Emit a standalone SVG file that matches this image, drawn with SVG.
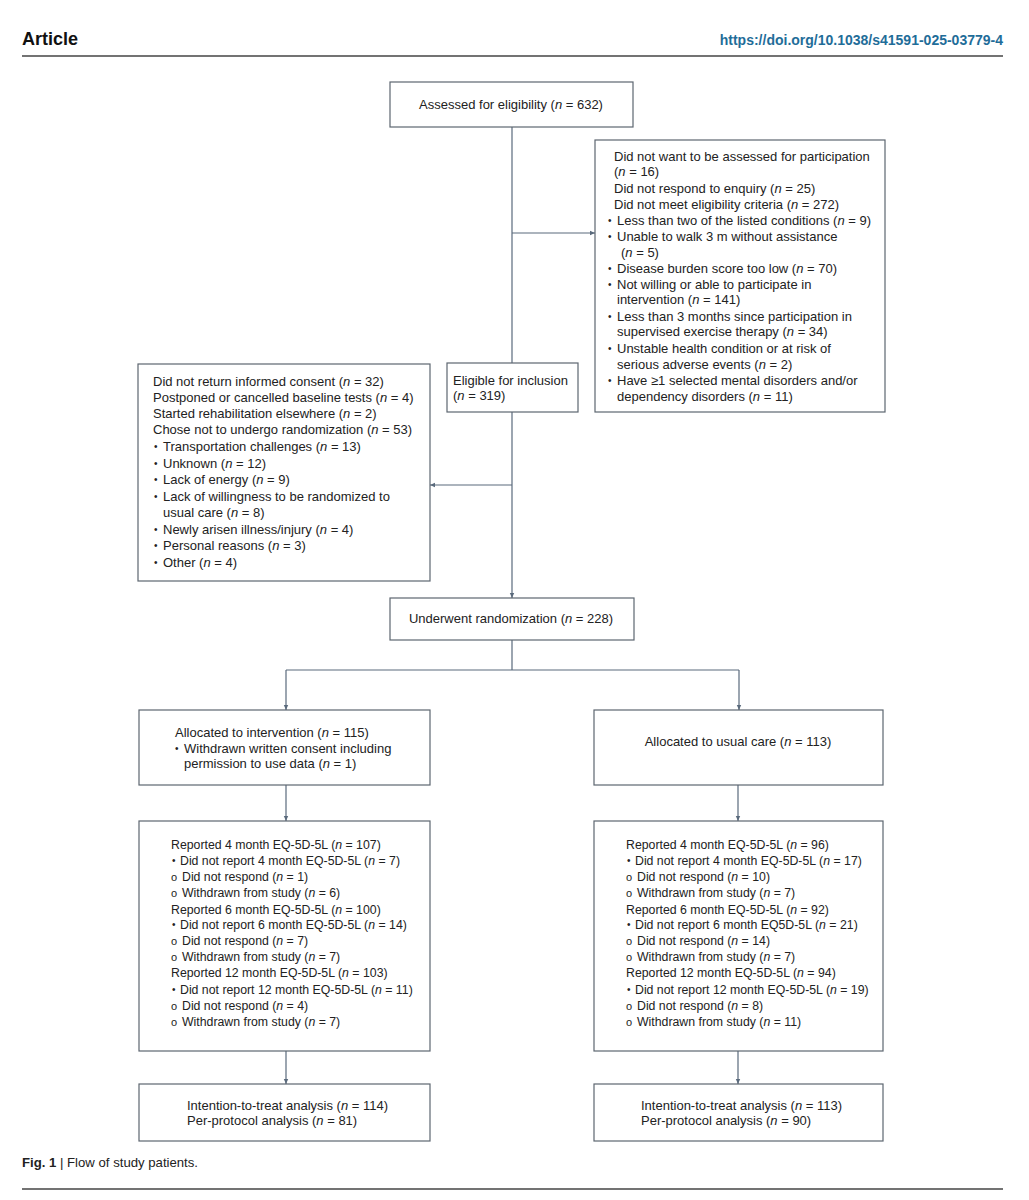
<svg xmlns="http://www.w3.org/2000/svg" width="1029" height="1200" viewBox="0 0 1029 1200">
<style>
text{font-family:"Liberation Sans",Arial,sans-serif;font-size:13px;fill:#222}
.box{fill:#fff;stroke:#5d6670;stroke-width:1.2}
.con{fill:none;stroke:#5a6a7c;stroke-width:1.2}
.b{font-size:10px}
.o{font-size:11px}
.c{text-anchor:middle}
.fu text{font-size:12.3px}
.fu text.b{font-size:10px}
.fu text.o{font-size:11px}
</style>
<defs>
<marker id="ah" markerWidth="6" markerHeight="6" refX="5" refY="3" orient="auto" markerUnits="userSpaceOnUse">
<path d="M0,0.8 L5,3 L0,5.2 Z" fill="#5a6a7c"/>
</marker>
</defs>
<rect width="1029" height="1200" fill="#fff"/>
<g id="header">
<text x="22" y="45" style="font-size:18px;font-weight:bold;fill:#111">Article</text>
<text x="1003" y="45" style="font-size:14px;font-weight:bold;fill:#1f6d99;text-anchor:end">https://doi.org/10.1038/s41591-025-03779-4</text>
<line x1="22" y1="56" x2="1003" y2="56" stroke="#444" stroke-width="1.5"/>
</g>
<g id="connectors">
<path class="con" d="M512,127 V363"/>
<path class="con" d="M512,233 H595" marker-end="url(#ah)"/>
<path class="con" d="M512,412 V598" marker-end="url(#ah)"/>
<path class="con" d="M512,485 H430" marker-end="url(#ah)"/>
<path class="con" d="M512,640 V670 M286,670 H739"/>
<path class="con" d="M286,670 V710" marker-end="url(#ah)"/>
<path class="con" d="M739,670 V710" marker-end="url(#ah)"/>
<path class="con" d="M286,785 V821" marker-end="url(#ah)"/>
<path class="con" d="M738,785 V821" marker-end="url(#ah)"/>
<path class="con" d="M286,1051 V1084" marker-end="url(#ah)"/>
<path class="con" d="M738,1051 V1084" marker-end="url(#ah)"/>
</g>
<g id="assessed">
<rect class="box" x="390" y="82" width="243" height="45"/>
<text class="c" x="511" y="109">Assessed for eligibility (<tspan font-style="italic">n</tspan> = 632)</text>
</g>
<g id="excluded1">
<rect class="box" x="595" y="140" width="290" height="272"/>
<text x="614" y="161">Did not want to be assessed for participation</text>
<text x="614" y="176">(<tspan font-style="italic">n</tspan> = 16)</text>
<text x="614" y="193">Did not respond to enquiry (<tspan font-style="italic">n</tspan> = 25)</text>
<text x="614" y="209">Did not meet eligibility criteria (<tspan font-style="italic">n</tspan> = 272)</text>
<text class="b" x="608" y="224">•</text><text x="617" y="225">Less than two of the listed conditions (<tspan font-style="italic">n</tspan> = 9)</text>
<text class="b" x="608" y="240">•</text><text x="617" y="241">Unable to walk 3 m without assistance</text>
<text x="621" y="257">(<tspan font-style="italic">n</tspan> = 5)</text>
<text class="b" x="608" y="272">•</text><text x="617" y="273">Disease burden score too low (<tspan font-style="italic">n</tspan> = 70)</text>
<text class="b" x="608" y="288">•</text><text x="617" y="289">Not willing or able to participate in</text>
<text x="617" y="304">intervention (<tspan font-style="italic">n</tspan> = 141)</text>
<text class="b" x="608" y="320">•</text><text x="617" y="321">Less than 3 months since participation in</text>
<text x="617" y="336">supervised exercise therapy (<tspan font-style="italic">n</tspan> = 34)</text>
<text class="b" x="608" y="352">•</text><text x="617" y="353">Unstable health condition or at risk of</text>
<text x="617" y="369">serious adverse events (<tspan font-style="italic">n</tspan> = 2)</text>
<text class="b" x="608" y="384">•</text><text x="617" y="385">Have ≥1 selected mental disorders and/or</text>
<text x="617" y="401">dependency disorders (<tspan font-style="italic">n</tspan> = 11)</text>
</g>
<g id="eligible">
<rect class="box" x="447" y="363" width="131" height="49"/>
<text x="453" y="385">Eligible for inclusion</text>
<text x="453" y="400">(<tspan font-style="italic">n</tspan> = 319)</text>
</g>
<g id="excluded2">
<rect class="box" x="138" y="364" width="292" height="217"/>
<text x="153" y="386">Did not return informed consent (<tspan font-style="italic">n</tspan> = 32)</text>
<text x="153" y="402">Postponed or cancelled baseline tests (<tspan font-style="italic">n</tspan> = 4)</text>
<text x="153" y="418">Started rehabilitation elsewhere (<tspan font-style="italic">n</tspan> = 2)</text>
<text x="153" y="434">Chose not to undergo randomization (<tspan font-style="italic">n</tspan> = 53)</text>
<text class="b" x="154" y="450">•</text><text x="163" y="451">Transportation challenges (<tspan font-style="italic">n</tspan> = 13)</text>
<text class="b" x="154" y="467">•</text><text x="163" y="468">Unknown (<tspan font-style="italic">n</tspan> = 12)</text>
<text class="b" x="154" y="483">•</text><text x="163" y="484">Lack of energy (<tspan font-style="italic">n</tspan> = 9)</text>
<text class="b" x="154" y="500">•</text><text x="163" y="501">Lack of willingness to be randomized to</text>
<text x="163" y="517">usual care (<tspan font-style="italic">n</tspan> = 8)</text>
<text class="b" x="154" y="533">•</text><text x="163" y="534">Newly arisen illness/injury (<tspan font-style="italic">n</tspan> = 4)</text>
<text class="b" x="154" y="549">•</text><text x="163" y="550">Personal reasons (<tspan font-style="italic">n</tspan> = 3)</text>
<text class="b" x="154" y="566">•</text><text x="163" y="567">Other (<tspan font-style="italic">n</tspan> = 4)</text>
</g>
<g id="randomized">
<rect class="box" x="390" y="598" width="244" height="42"/>
<text class="c" x="511" y="623">Underwent randomization (<tspan font-style="italic">n</tspan> = 228)</text>
</g>
<g id="alloc-intervention">
<rect class="box" x="139" y="710" width="291" height="75"/>
<text x="175" y="737">Allocated to intervention (<tspan font-style="italic">n</tspan> = 115)</text>
<text class="b" x="175" y="752">•</text><text x="184" y="753">Withdrawn written consent including</text>
<text x="184" y="768">permission to use data (<tspan font-style="italic">n</tspan> = 1)</text>
</g>
<g id="alloc-usual">
<rect class="box" x="594" y="710" width="289" height="75"/>
<text class="c" x="738" y="746">Allocated to usual care (<tspan font-style="italic">n</tspan> = 113)</text>
</g>
<g id="followup-intervention" class="fu">
<rect class="box" x="139" y="821" width="291" height="230"/>
<text x="171" y="849">Reported 4 month EQ-5D-5L (<tspan font-style="italic">n</tspan> = 107)</text>
<text class="b" x="172" y="864">•</text><text x="180" y="865">Did not report 4 month EQ-5D-5L (<tspan font-style="italic">n</tspan> = 7)</text>
<text class="o" x="171" y="881">o</text><text x="182" y="881">Did not respond (<tspan font-style="italic">n</tspan> = 1)</text>
<text class="o" x="171" y="897">o</text><text x="182" y="897">Withdrawn from study (<tspan font-style="italic">n</tspan> = 6)</text>
<text x="171" y="914">Reported 6 month EQ-5D-5L (<tspan font-style="italic">n</tspan> = 100)</text>
<text class="b" x="172" y="928">•</text><text x="180" y="929">Did not report 6 month EQ-5D-5L (<tspan font-style="italic">n</tspan> = 14)</text>
<text class="o" x="171" y="945">o</text><text x="182" y="945">Did not respond (<tspan font-style="italic">n</tspan> = 7)</text>
<text class="o" x="171" y="961">o</text><text x="182" y="961">Withdrawn from study (<tspan font-style="italic">n</tspan> = 7)</text>
<text x="171" y="977">Reported 12 month EQ-5D-5L (<tspan font-style="italic">n</tspan> = 103)</text>
<text class="b" x="172" y="993">•</text><text x="180" y="994">Did not report 12 month EQ-5D-5L (<tspan font-style="italic">n</tspan> = 11)</text>
<text class="o" x="171" y="1010">o</text><text x="182" y="1010">Did not respond (<tspan font-style="italic">n</tspan> = 4)</text>
<text class="o" x="171" y="1026">o</text><text x="182" y="1026">Withdrawn from study (<tspan font-style="italic">n</tspan> = 7)</text>
</g>
<g id="followup-usual" class="fu">
<rect class="box" x="594" y="821" width="289" height="230"/>
<text x="626" y="849">Reported 4 month EQ-5D-5L (<tspan font-style="italic">n</tspan> = 96)</text>
<text class="b" x="627" y="864">•</text><text x="635" y="865">Did not report 4 month EQ-5D-5L (<tspan font-style="italic">n</tspan> = 17)</text>
<text class="o" x="626" y="881">o</text><text x="637" y="881">Did not respond (<tspan font-style="italic">n</tspan> = 10)</text>
<text class="o" x="626" y="897">o</text><text x="637" y="897">Withdrawn from study (<tspan font-style="italic">n</tspan> = 7)</text>
<text x="626" y="914">Reported 6 month EQ-5D-5L (<tspan font-style="italic">n</tspan> = 92)</text>
<text class="b" x="627" y="928">•</text><text x="635" y="929">Did not report 6 month EQ5D-5L (<tspan font-style="italic">n</tspan> = 21)</text>
<text class="o" x="626" y="945">o</text><text x="637" y="945">Did not respond (<tspan font-style="italic">n</tspan> = 14)</text>
<text class="o" x="626" y="961">o</text><text x="637" y="961">Withdrawn from study (<tspan font-style="italic">n</tspan> = 7)</text>
<text x="626" y="977">Reported 12 month EQ-5D-5L (<tspan font-style="italic">n</tspan> = 94)</text>
<text class="b" x="627" y="993">•</text><text x="635" y="994">Did not report 12 month EQ-5D-5L (<tspan font-style="italic">n</tspan> = 19)</text>
<text class="o" x="626" y="1010">o</text><text x="637" y="1010">Did not respond (<tspan font-style="italic">n</tspan> = 8)</text>
<text class="o" x="626" y="1026">o</text><text x="637" y="1026">Withdrawn from study (<tspan font-style="italic">n</tspan> = 11)</text>
</g>
<g id="analysis-intervention">
<rect class="box" x="139" y="1084" width="291" height="57"/>
<text x="187" y="1110">Intention-to-treat analysis (<tspan font-style="italic">n</tspan> = 114)</text>
<text x="187" y="1125">Per-protocol analysis (<tspan font-style="italic">n</tspan> = 81)</text>
</g>
<g id="analysis-usual">
<rect class="box" x="594" y="1084" width="289" height="57"/>
<text x="641" y="1110">Intention-to-treat analysis (<tspan font-style="italic">n</tspan> = 113)</text>
<text x="641" y="1125">Per-protocol analysis (<tspan font-style="italic">n</tspan> = 90)</text>
</g>
<g id="caption">
<text x="22" y="1167" textLength="176" lengthAdjust="spacingAndGlyphs" style="font-size:13px;fill:#222"><tspan font-weight="bold">Fig. 1</tspan> | Flow of study patients.</text>
<line x1="22" y1="1189" x2="1003" y2="1189" stroke="#444" stroke-width="1.5"/>
</g>
</svg>
